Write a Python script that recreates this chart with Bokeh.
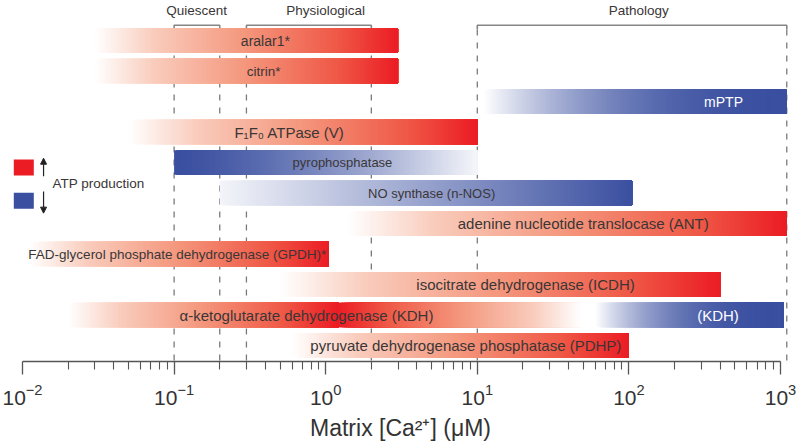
import numpy as np
from bokeh.plotting import figure
from bokeh.models import Range1d, FixedTicker, LogTickFormatter, Arrow, NormalHead, ColumnDataSource
from bokeh.embed import file_html
from bokeh.resources import INLINE
from bokeh.core.properties import value

# ---------------- data ----------------
# gradient segments of the bars (row index from top, start/end in uM, colour, intensity at start/end)
seg_row   = [0,    1,    2,    3,    4,    5,    6,    7,     8,   9,    9,    9,    10]
seg_start = [0.03, 0.03, 11,   0.05, 0.1,  0.2,  1.4,  0.011, 0.5, 0.02, 1.2,  60,   0.6]
seg_end   = [3,    3,    1100, 10,   10,   105,  1100, 1.05,  400, 1.2,  48,   1050, 100]
seg_hue   = ["red", "red", "blue", "red", "blue", "blue", "red", "red", "red",
             "red", "red", "blue", "red"]
seg_t0    = [0, 0, 0, 0, 1,    0.06, 0, 0, 0, 0, 1, 0, 0]
seg_t1    = [1, 1, 1, 1, 0.05, 1,    1, 1, 1, 1, 0, 1, 1]
# shape of the ramp along each segment: ("lin", 1), ease-in ("in", k) or ease-out ("out", k)
seg_curve = [("lin", 1), ("lin", 1), ("out", 2.2), ("lin", 1), ("in", 1.4), ("lin", 1), ("lin", 1),
             ("lin", 1), ("lin", 1), ("lin", 1), ("lin", 1), ("out", 2.5), ("lin", 1)]

lab_text = ["aralar1*", "citrin*", "mPTP", "F\u2081F\u2080 ATPase (V)", "pyrophosphatase",
            "NO synthase (n-NOS)", "adenine nucleotide translocase (ANT)",
            "FAD-glycerol phosphate dehydrogenase (GPDH)*", "isocitrate dehydrogenase (ICDH)",
            "\u03b1-ketoglutarate dehydrogenase (KDH)", "(KDH)",
            "pyruvate dehydrogenase phosphatase (PDHP)"]
lab_row = [0, 1, 2, 3, 4, 5, 6, 7, 8, 9, 9, 10]
lab_x = [0.40, 0.39, 421, 0.577, 1.29, 5.0, 50, 0.105, 20.8, 0.747, 387, 8.4]
lab_size = ["14px", "13.5px", "14px", "15px", "13px", "13px", "15px", "13.5px", "15px", "15px", "15px", "15px"]
lab_white = [False, False, True, False, False, False, False, False, False, False, True, False]

zone_name = ["Quiescent", "Physiological", "Pathology"]
zone_left = [0.1, 0.3, 10]
zone_right = [0.2, 2, 1100]
zone_label_x = [0.141, 1.0, 116]

major_ticks = [0.01, 0.1, 1, 10, 100, 1000]
minor_ticks = [k * 10.0 ** e for e in range(-2, 3) for k in range(2, 10)]

RED_STOPS = [(0.0, (255, 255, 255)), (0.2, (249, 203, 187)), (0.5, (244, 150, 124)),
             (0.8, (239, 88, 70)), (1.0, (235, 28, 36))]
BLUE_STOPS = [(0.0, (255, 255, 255)), (1.0, (58, 79, 160))]


def colour(hue, t):
    stops = RED_STOPS if hue == "red" else BLUE_STOPS
    t = min(max(t, 0.0), 1.0)
    for (ta, ca), (tb, cb) in zip(stops[:-1], stops[1:]):
        if t <= tb:
            f = (t - ta) / (tb - ta) if tb > ta else 0
            c = [round(a + (b - a) * f) for a, b in zip(ca, cb)]
            return "#%02x%02x%02x" % tuple(c)
    return "#%02x%02x%02x" % stops[-1][1]


def shape(curve, f):
    kind, k = curve
    if kind == "in":
        return f ** k
    if kind == "out":
        return 1 - (1 - f) ** k
    return f


# ---------------- figure ----------------
PX_DEC = 151.6            # pixels per decade
X0_PX = 22                # pixel of 10^-2
W, H = 800, 448
AXIS_PX, ROW0_PX, ROW_PX = 361, 40, 30.5
x_lo = -2 - X0_PX / PX_DEC
x_hi = x_lo + W / PX_DEC
Y_TOP = -ROW0_PX / ROW_PX
Y_BOT = (AXIS_PX - ROW0_PX) / ROW_PX

p = figure(width=W, height=H, x_axis_type="log",
           x_range=Range1d(10 ** x_lo, 10 ** x_hi), y_range=Range1d(Y_BOT, Y_TOP),
           output_backend="svg", toolbar_location=None, y_axis_location=None,
           min_border_left=0, min_border_right=0, min_border_top=0, min_border_bottom=H - AXIS_PX)
p.outline_line_color = None
p.xgrid.visible = False
p.ygrid.visible = False
p.background_fill_color = "white"

FONT = value("Liberation Sans")
GREY_TXT = "#3a3636"

# dashed zone boundaries
dash_x = sorted(set(zone_left + zone_right))
p.segment(x0=dash_x, x1=dash_x, y0=[-0.36] * len(dash_x), y1=[Y_BOT] * len(dash_x),
          line_color="#7a7a7a", line_width=1.3, line_dash="6 7")

# brackets
bx, by = [], []
for l, r in zip(zone_left, zone_right):
    bx.append([l, l, r, r])
    by.append([-0.36, -0.5, -0.5, -0.36])
p.multi_line(xs=bx, ys=by, line_color="#858585", line_width=1.6)
p.text(x=zone_label_x, y=[-0.98] * 3, text=zone_name, text_align="center",
       text_baseline="middle", text_font=FONT, text_font_size="13.5px", text_color=GREY_TXT)

# gradient bars: each slice runs to the segment end, later slices drawn on top (no seams)
N = 160
ql, qr, qy, qc = [], [], [], []
for row, s, e, hue, t0, t1, cv in zip(seg_row, seg_start, seg_end, seg_hue, seg_t0, seg_t1, seg_curve):
    l0, l1 = np.log10(s), np.log10(e)
    edges = 10 ** np.linspace(l0, l1, N + 1)
    follows = any(r == row and st == e for r, st in zip(seg_row, seg_start))
    right = e * 1.01 if follows else e
    for k in range(N):
        f = (k + 0.5) / N
        ql.append(edges[k])
        qr.append(right)
        qy.append(row)
        qc.append(colour(hue, t0 + (t1 - t0) * shape(cv, f)))
bars = ColumnDataSource(dict(left=ql, right=qr, y=qy, c=qc))
p.hbar(y="y", left="left", right="right", height=0.8, fill_color="c", line_color=None,
       source=bars)

# bar labels
labs = ColumnDataSource(dict(x=lab_x, y=lab_row, t=lab_text, s=lab_size,
                             c=["white" if w else GREY_TXT for w in lab_white]))
p.text(x="x", y="y", text="t", text_font_size="s", text_color="c", text_align="center",
       text_baseline="middle", text_font=FONT, source=labs)

# legend (ATP production)
p.rect(x=[0.0102, 0.0102], y=[4.16, 5.25], width=20, height=16, width_units="screen",
       height_units="screen", fill_color=["#ec1c24", "#3a4fa0"], line_color=None)
p.add_layout(Arrow(x_start=0.01377, y_start=4.45, x_end=0.01377, y_end=3.86,
                   line_width=1.2, line_color="#222222",
                   end=NormalHead(size=6, fill_color="#222222", line_color="#222222")))
p.add_layout(Arrow(x_start=0.01377, y_start=4.95, x_end=0.01377, y_end=5.66,
                   line_width=1.2, line_color="#222222",
                   end=NormalHead(size=6, fill_color="#222222", line_color="#222222")))
p.text(x=[0.01578], y=[4.69], text=["ATP production"], text_align="left", text_baseline="middle",
       text_font=FONT, text_font_size="13.5px", text_color=GREY_TXT)

# x axis
ax = p.xaxis[0]
ax.ticker = FixedTicker(ticks=major_ticks, minor_ticks=minor_ticks)
ax.formatter = LogTickFormatter()
ax.bounds = (major_ticks[0], major_ticks[-1])
ax.axis_line_color = "#555555"
ax.axis_line_width = 1.3
ax.major_tick_line_color = "#555555"
ax.minor_tick_line_color = "#555555"
ax.major_tick_line_width = 1.3
ax.minor_tick_line_width = 1.1
ax.major_tick_in = 0
ax.minor_tick_in = 0
ax.major_tick_out = 13
ax.minor_tick_out = 8
ax.major_label_text_font = "Liberation Sans"
ax.major_label_text_font_size = "21px"
ax.major_label_text_color = "#333333"
ax.major_label_standoff = 9
ax.axis_label = "Matrix [Ca\u00b2\u207a] (\u03bcM)"
ax.axis_label_text_font = "Liberation Sans"
ax.axis_label_text_font_size = "23px"
ax.axis_label_text_font_style = "normal"
ax.axis_label_text_color = "#333333"
ax.axis_label_standoff = 7

open("out.html", "w").write(file_html(p, INLINE))
